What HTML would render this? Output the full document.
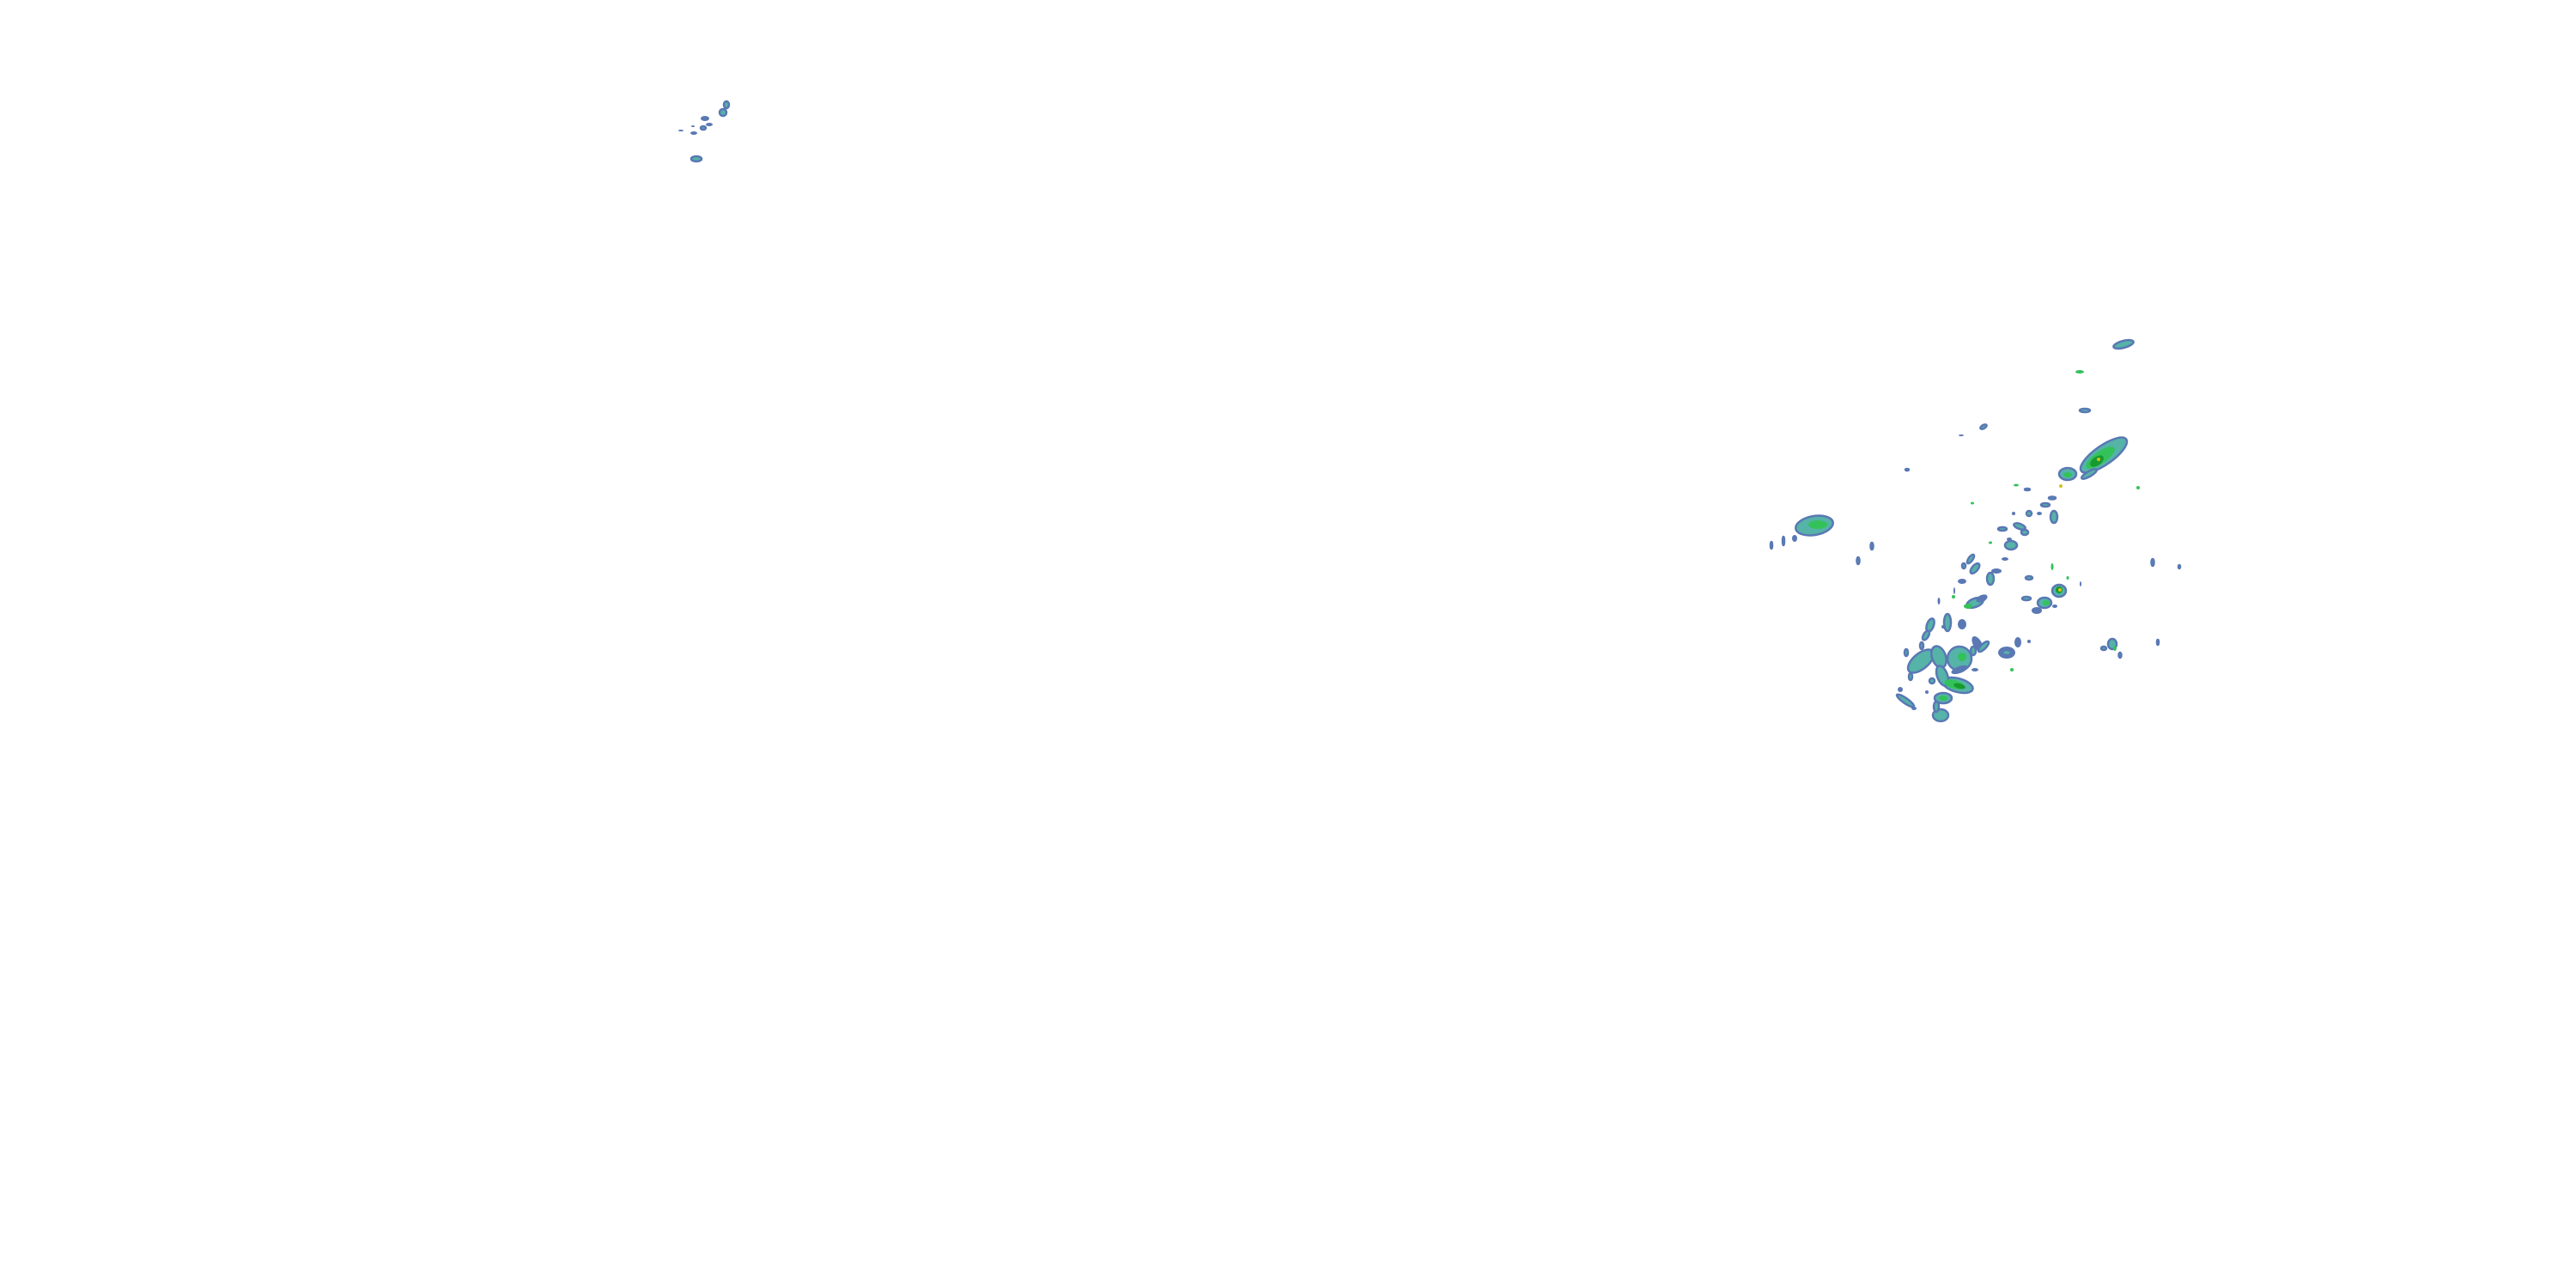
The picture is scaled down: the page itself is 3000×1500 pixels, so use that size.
<!DOCTYPE html>
<html><head><meta charset="utf-8"><style>
html,body{margin:0;padding:0;background:#fff;width:3000px;height:1500px;overflow:hidden}
svg{display:block}
.b{fill:#5a78b4}
.t{fill:#55b3a8;stroke:#5a78b4;stroke-width:2.5}
.g{fill:#33c25a}
.d{fill:#179a2e}
.y{fill:#d6c21e}
</style></head><body>
<svg width="3000" height="1500" viewBox="0 0 3000 1500">
<!-- top-left small cluster -->
<ellipse class="t" cx="846" cy="122" rx="3" ry="4"/>
<ellipse class="t" cx="842" cy="131" rx="4" ry="4"/>
<ellipse class="b" cx="821" cy="138" rx="5" ry="3"/>
<ellipse class="b" cx="826" cy="145" rx="4" ry="2"/>
<ellipse class="t" cx="819" cy="149" rx="3" ry="2"/>
<ellipse class="b" cx="808" cy="155" rx="4" ry="2"/>
<ellipse class="b" cx="807" cy="147" rx="2" ry="1"/>
<ellipse class="b" cx="793" cy="152" rx="3" ry="1"/>
<ellipse class="t" cx="811" cy="185" rx="6" ry="3"/>

<!-- right cluster north -->
<ellipse class="t" cx="2473" cy="401" rx="12" ry="4" transform="rotate(-15 2473 401)"/>
<ellipse class="g" cx="2422" cy="433" rx="5" ry="2"/>
<ellipse class="t" cx="2428" cy="478" rx="6" ry="2"/>
<ellipse class="t" cx="2310" cy="497" rx="4" ry="2" transform="rotate(-30 2310 497)"/>
<ellipse class="b" cx="2284" cy="507" rx="3" ry="1"/>
<ellipse class="t" cx="2221" cy="547" rx="2" ry="1"/>

<!-- big NE cell -->
<ellipse class="t" cx="2450" cy="530" rx="32" ry="11" transform="rotate(-35 2450 530)"/>
<ellipse class="g" cx="2446" cy="533" rx="20" ry="7" transform="rotate(-35 2446 533)"/>
<ellipse class="d" cx="2442" cy="537" rx="9" ry="5" transform="rotate(-35 2442 537)"/>
<ellipse class="y" cx="2444" cy="535" rx="2" ry="2"/>
<ellipse class="t" cx="2408" cy="552" rx="10" ry="7"/>
<ellipse class="g" cx="2408" cy="553" rx="5" ry="3"/>
<ellipse class="y" cx="2400" cy="566" rx="2" ry="2"/>
<ellipse class="t" cx="2433" cy="552" rx="10" ry="3" transform="rotate(-30 2433 552)"/>
<ellipse class="g" cx="2348" cy="565" rx="3" ry="1.5"/>
<ellipse class="t" cx="2361" cy="570" rx="3" ry="1"/>
<ellipse class="t" cx="2390" cy="580" rx="4" ry="1.5"/>
<ellipse class="t" cx="2382" cy="588" rx="5" ry="2"/>
<ellipse class="g" cx="2297" cy="586" rx="2" ry="1.5"/>
<ellipse class="g" cx="2490" cy="568" rx="2" ry="2"/>

<!-- left blob -->
<ellipse class="t" cx="2113" cy="612" rx="22" ry="11" transform="rotate(-10 2113 612)"/>
<ellipse class="g" cx="2117" cy="611" rx="11" ry="5"/>
<ellipse class="b" cx="2090" cy="627" rx="3" ry="4"/>
<ellipse class="t" cx="2063" cy="635" rx="1" ry="4"/>
<ellipse class="t" cx="2077" cy="630" rx="1" ry="5"/>
<ellipse class="t" cx="2180" cy="636" rx="1.5" ry="4"/>
<ellipse class="t" cx="2164" cy="653" rx="1.5" ry="4"/>

<!-- middle scattered -->
<ellipse class="t" cx="2392" cy="602" rx="4" ry="7"/>
<ellipse class="t" cx="2363" cy="598" rx="3" ry="3"/>
<ellipse class="b" cx="2375" cy="598" rx="3" ry="2"/>
<ellipse class="b" cx="2345" cy="598" rx="2" ry="2"/>
<ellipse class="t" cx="2352" cy="613" rx="7" ry="3" transform="rotate(20 2352 613)"/>
<ellipse class="t" cx="2358" cy="620" rx="4" ry="3"/>
<ellipse class="t" cx="2332" cy="616" rx="5" ry="2"/>
<ellipse class="t" cx="2342" cy="635" rx="7" ry="5"/>
<ellipse class="b" cx="2340" cy="628" rx="3" ry="2"/>
<ellipse class="b" cx="2318" cy="632" rx="2" ry="1"/>
<ellipse class="g" cx="2318" cy="632" rx="2" ry="1.5"/>
<ellipse class="t" cx="2295" cy="651" rx="2.5" ry="6" transform="rotate(35 2295 651)"/>
<ellipse class="t" cx="2300" cy="662" rx="3.5" ry="7" transform="rotate(40 2300 662)"/>
<ellipse class="t" cx="2287" cy="659" rx="2" ry="3"/>
<ellipse class="b" cx="2285" cy="677" rx="5" ry="3"/>
<ellipse class="t" cx="2318" cy="674" rx="4" ry="7"/>
<ellipse class="b" cx="2325" cy="665" rx="6" ry="3"/>
<ellipse class="b" cx="2335" cy="651" rx="4" ry="2"/>
<ellipse class="t" cx="2363" cy="673" rx="4" ry="2"/>
<ellipse class="t" cx="2398" cy="688" rx="8" ry="7"/>
<ellipse class="d" cx="2398" cy="687" rx="4" ry="4"/>
<ellipse class="y" cx="2399" cy="687" rx="2" ry="2"/>
<ellipse class="t" cx="2381" cy="702" rx="8" ry="6"/>
<ellipse class="g" cx="2383" cy="702" rx="4" ry="3"/>
<ellipse class="b" cx="2372" cy="711" rx="6" ry="4"/>
<ellipse class="t" cx="2360" cy="697" rx="5" ry="2"/>
<ellipse class="b" cx="2393" cy="706" rx="3" ry="2"/>
<ellipse class="g" cx="2390" cy="660" rx="1.5" ry="4"/>
<ellipse class="g" cx="2408" cy="673" rx="1.5" ry="2"/>
<ellipse class="b" cx="2423" cy="680" rx="1" ry="3"/>
<ellipse class="t" cx="2507" cy="655" rx="1.5" ry="4"/>
<ellipse class="t" cx="2538" cy="660" rx="1" ry="2"/>
<ellipse class="t" cx="2300" cy="702" rx="10" ry="5" transform="rotate(-20 2300 702)"/>
<ellipse class="g" cx="2292" cy="706" rx="5" ry="3"/>
<ellipse class="b" cx="2308" cy="697" rx="7" ry="4" transform="rotate(-25 2308 697)"/>
<ellipse class="g" cx="2275" cy="695" rx="2" ry="2"/>
<ellipse class="b" cx="2276" cy="688" rx="1" ry="4"/>
<ellipse class="b" cx="2258" cy="700" rx="1.5" ry="4"/>
<ellipse class="t" cx="2248" cy="728" rx="4" ry="8" transform="rotate(20 2248 728)"/>
<ellipse class="t" cx="2268" cy="725" rx="4" ry="10"/>
<ellipse class="b" cx="2285" cy="727" rx="5" ry="6"/>
<ellipse class="b" cx="2263" cy="730" rx="2" ry="2"/>
<ellipse class="t" cx="2243" cy="740" rx="3" ry="6" transform="rotate(30 2243 740)"/>
<ellipse class="t" cx="2238" cy="752" rx="2" ry="4"/>
<ellipse class="b" cx="2303" cy="750" rx="5" ry="10" transform="rotate(-30 2303 750)"/>
<ellipse class="t" cx="2298" cy="758" rx="3" ry="5"/>
<ellipse class="b" cx="2337" cy="760" rx="10" ry="7"/>
<ellipse class="t" cx="2337" cy="760" rx="5" ry="3"/>
<ellipse class="b" cx="2350" cy="748" rx="4" ry="6"/>
<ellipse class="b" cx="2363" cy="747" rx="2" ry="2"/>
<ellipse class="t" cx="2460" cy="750" rx="5" ry="6"/>
<ellipse class="g" cx="2463" cy="755" rx="2" ry="3"/>
<ellipse class="t" cx="2450" cy="755" rx="3" ry="2"/>
<ellipse class="t" cx="2469" cy="763" rx="1.5" ry="3"/>
<ellipse class="t" cx="2513" cy="748" rx="1" ry="3"/>
<ellipse class="b" cx="2300" cy="780" rx="4" ry="2"/>
<ellipse class="g" cx="2343" cy="780" rx="2" ry="2"/>

<!-- SW cluster -->
<ellipse class="t" cx="2237" cy="770" rx="18" ry="9" transform="rotate(-40 2237 770)"/>
<ellipse class="t" cx="2258" cy="765" rx="8" ry="13" transform="rotate(-20 2258 765)"/>
<ellipse class="t" cx="2282" cy="767" rx="14" ry="14" transform="rotate(-50 2282 767)"/>
<ellipse class="g" cx="2285" cy="765" rx="5" ry="5"/>
<ellipse class="b" cx="2282" cy="780" rx="10" ry="4" transform="rotate(-20 2282 780)"/>
<ellipse class="t" cx="2280" cy="798" rx="18" ry="8" transform="rotate(15 2280 798)"/>
<ellipse class="t" cx="2262" cy="787" rx="6" ry="12" transform="rotate(-20 2262 787)"/>
<ellipse class="g" cx="2276" cy="797" rx="12" ry="5" transform="rotate(15 2276 797)"/>
<ellipse class="d" cx="2282" cy="799" rx="7" ry="3" transform="rotate(15 2282 799)"/>
<ellipse class="t" cx="2263" cy="813" rx="10" ry="6"/>
<ellipse class="g" cx="2263" cy="813" rx="5" ry="3"/>
<ellipse class="t" cx="2260" cy="833" rx="9" ry="7"/>
<ellipse class="t" cx="2255" cy="823" rx="3" ry="6"/>
<ellipse class="t" cx="2219" cy="816" rx="12" ry="3" transform="rotate(35 2219 816)"/>
<ellipse class="b" cx="2229" cy="825" rx="3" ry="2"/>
<ellipse class="t" cx="2310" cy="753" rx="8" ry="3" transform="rotate(-45 2310 753)"/>
<ellipse class="t" cx="2220" cy="760" rx="2" ry="4"/>
<ellipse class="t" cx="2225" cy="788" rx="2" ry="4"/>
<ellipse class="t" cx="2250" cy="793" rx="3" ry="3"/>
<ellipse class="b" cx="2213" cy="803" rx="3" ry="3"/>
<ellipse class="b" cx="2244" cy="806" rx="2" ry="2"/>
</svg>
</body></html>
